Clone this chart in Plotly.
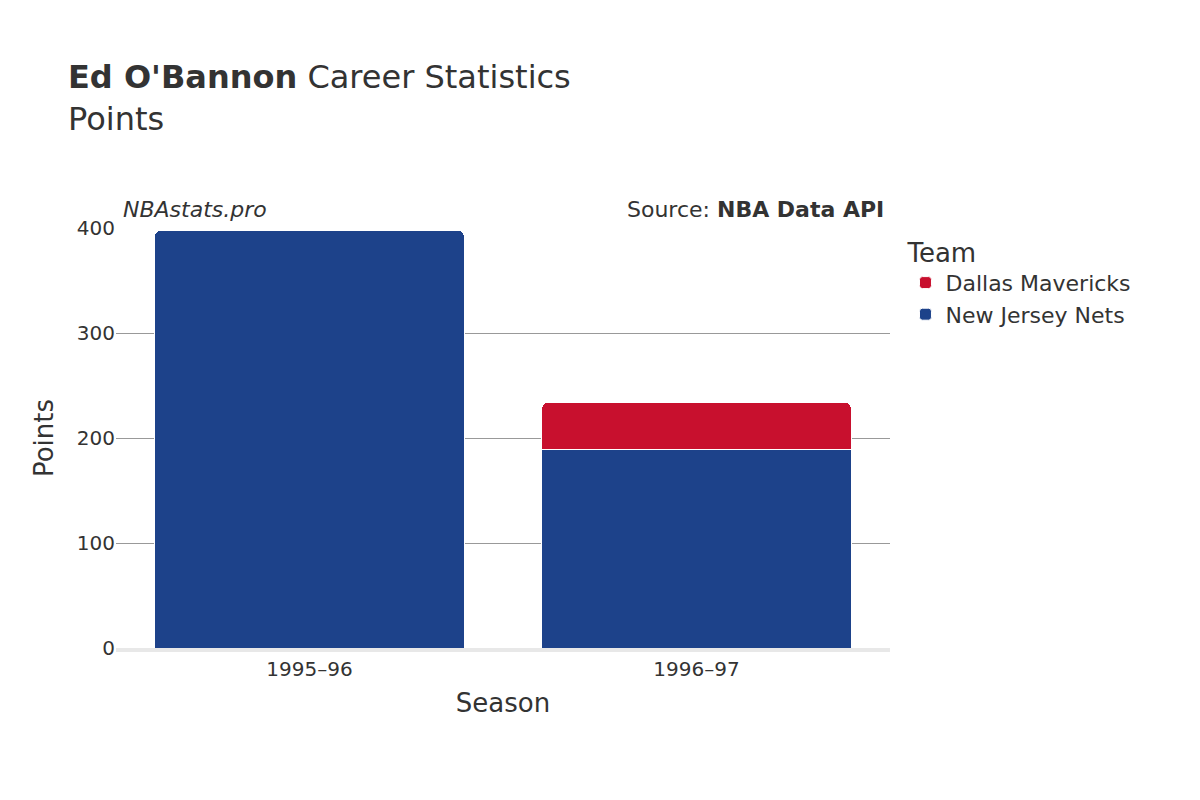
import plotly.graph_objects as go

seasons = ["1995–96", "1996–97"]
nets = [398, 189]
dallas = [0, 45]

fig = go.Figure()
fig.add_bar(x=seasons, y=nets, name="New Jersey Nets", marker=dict(color="#1d428a", line=dict(color="white", width=1)))
fig.add_bar(x=[seasons[1]], y=[dallas[1]], name="Dallas Mavericks", marker=dict(color="#c8102e", line=dict(color="white", width=1)))

fig.update_layout(
    width=1200, height=800, barmode="stack", barcornerradius=6, bargap=0.2,
    font=dict(family="DejaVu Sans", size=20, color="#333"),
    plot_bgcolor="white", paper_bgcolor="white",
    margin=dict(l=108, r=318, t=220, b=160),
    title=dict(text="<b>Ed O'Bannon</b> Career Statistics<br>Points", x=0.05, xanchor="left", y=0.9, yanchor="top", font=dict(size=32, color="#333")),
    legend=dict(title=dict(text="Team", font=dict(size=26)), x=1.02, y=1.0, yanchor="top", font=dict(size=22)),
    xaxis=dict(title=dict(text="Season", font=dict(size=26)), showline=True, linecolor="#e8e8e8", linewidth=4),
    yaxis=dict(title=dict(text="Points", font=dict(size=26)), range=[0, 400], tickvals=[0, 100, 200, 300, 400], gridcolor="#999", zeroline=False),
    annotations=[
        dict(text="<i>NBAstats.pro</i>", xref="paper", yref="paper", x=0.0, y=1.01, xanchor="left", yanchor="bottom", showarrow=False, font=dict(size=22, color="#333"), xshift=5),
        dict(text="Source: <b>NBA Data API</b>", xref="paper", yref="paper", x=1.0, y=1.01, xanchor="right", yanchor="bottom", showarrow=False, font=dict(size=22, color="#333"), xshift=-4),
    ],
)
fig.write_html("out.html")
